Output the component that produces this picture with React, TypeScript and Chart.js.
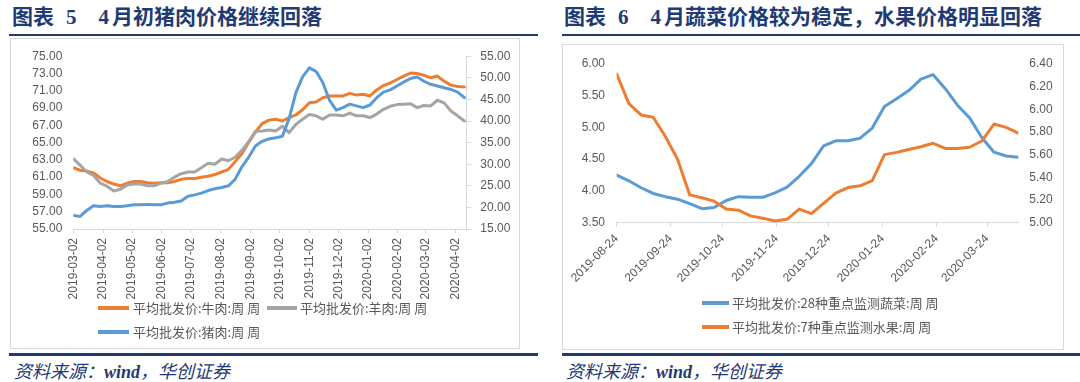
import React, { useEffect, useRef } from 'react';
import { Chart, registerables } from 'chart.js';

Chart.register(...registerables);

const NAVY = '#1f3b73';
const TICK_COLOR = '#595959';
const AXIS_COLOR = '#d9d9d9';
const ORANGE = '#ed7d31';
const GRAY = '#a5a5a5';
const BLUE = '#5b9bd5';

// ---------- 图表5 data ----------
const meatWeekStart = '2019-03-02';
const meatAxisEnd = '2020-04-13';
const meatTickLabels = ['2019-03-02', '2019-04-02', '2019-05-02', '2019-06-02', '2019-07-02', '2019-08-02', '2019-09-02', '2019-10-02', '2019-11-02', '2019-12-02', '2020-01-02', '2020-02-02', '2020-03-02', '2020-04-02'];
const beefSeries = [62.1, 61.8, 61.7, 61.5, 60.9, 60.5, 60.2, 60.0, 60.3, 60.5, 60.5, 60.35, 60.3, 60.35, 60.35, 60.5, 60.75, 60.85, 60.85, 61.0, 61.1, 61.3, 61.6, 61.9, 62.8, 63.7, 65.0, 66.2, 67.2, 67.6, 67.7, 67.5, 67.9, 68.2, 68.8, 69.6, 69.7, 70.2, 70.4, 70.4, 70.4, 70.7, 70.5, 70.6, 70.4, 71.1, 71.6, 71.9, 72.3, 72.7, 73.05, 73.0, 72.8, 72.5, 72.7, 72.1, 71.65, 71.5, 71.45];
const muttonSeries = [63.15, 62.4, 61.6, 61.2, 60.3, 59.95, 59.4, 59.6, 60.1, 60.2, 60.2, 60.0, 60.0, 60.3, 60.5, 61.0, 61.4, 61.6, 61.6, 62.1, 62.6, 62.5, 63.1, 62.9, 63.3, 64.1, 65.1, 66.3, 66.35, 66.45, 66.35, 66.9, 66.15, 67.1, 67.7, 68.25, 68.1, 67.7, 68.2, 68.2, 68.1, 68.4, 68.1, 68.1, 67.9, 68.3, 68.85, 69.2, 69.4, 69.45, 69.5, 69.05, 69.3, 69.25, 69.9, 69.6, 68.65, 68.1, 67.5];
const porkSeries = [18.15, 17.9, 19.3, 20.4, 20.2, 20.4, 20.2, 20.2, 20.4, 20.6, 20.6, 20.7, 20.6, 20.6, 21.0, 21.2, 21.5, 22.6, 22.9, 23.3, 23.9, 24.3, 24.6, 25.0, 26.5, 29.4, 31.6, 34.2, 35.3, 35.85, 36.1, 36.45, 40.5, 46.5, 50.2, 52.3, 51.5, 48.9, 44.8, 42.5, 43.1, 43.9, 43.5, 43.1, 43.7, 45.4, 46.7, 47.2, 48.1, 49.0, 49.85, 50.2, 49.2, 48.5, 48.1, 47.7, 47.3, 46.7, 45.4];
const meatLegend = ['平均批发价:牛肉:周 周', '平均批发价:羊肉:周 周', '平均批发价:猪肉:周 周'];

// ---------- 图表6 data ----------
const produceWeekStart = '2019-08-24';
const produceAxisEnd = '2020-04-11';
const produceTickLabels = ['2019-08-24', '2019-09-24', '2019-10-24', '2019-11-24', '2019-12-24', '2020-01-24', '2020-02-24', '2020-03-24'];
const vegetableSeries = [4.25, 4.16, 4.05, 3.96, 3.91, 3.87, 3.80, 3.72, 3.74, 3.85, 3.91, 3.90, 3.90, 3.97, 4.06, 4.23, 4.43, 4.71, 4.79, 4.79, 4.83, 4.99, 5.33, 5.45, 5.58, 5.76, 5.83, 5.61, 5.35, 5.15, 4.84, 4.61, 4.55, 4.53];
const fruitSeries = [6.31, 6.05, 5.95, 5.93, 5.76, 5.56, 5.245, 5.22, 5.19, 5.12, 5.11, 5.06, 5.04, 5.015, 5.03, 5.12, 5.08, 5.17, 5.26, 5.31, 5.325, 5.37, 5.60, 5.62, 5.645, 5.67, 5.70, 5.655, 5.655, 5.665, 5.72, 5.87, 5.84, 5.79];
const produceLegend = ['平均批发价:28种重点监测蔬菜:周 周', '平均批发价:7种重点监测水果:周 周'];

const DAY = 86400000;
const daysBetween = (a: string, b: string) => Math.round((Date.parse(b) - Date.parse(a)) / DAY);
const weekly = (values: number[]) => values.map((y, i) => ({ x: i * 7, y }));

const tickFont = { family: "'Liberation Sans', Arial, sans-serif", size: 12 };

function meatConfig(): any {
  const tickDays = meatTickLabels.map((l) => daysBetween(meatWeekStart, l));
  return {
    type: 'line',
    data: {
      datasets: [
        { label: meatLegend[0], data: weekly(beefSeries), borderColor: ORANGE, yAxisID: 'y', order: 2 },
        { label: meatLegend[1], data: weekly(muttonSeries), borderColor: GRAY, yAxisID: 'y', order: 1 },
        { label: meatLegend[2], data: weekly(porkSeries), borderColor: BLUE, yAxisID: 'y2', order: 0 },
      ],
    },
    options: {
      animation: false,
      responsive: false,
      maintainAspectRatio: false,
      layout: { padding: { top: 17, left: 0, right: 0, bottom: 0 } },
      plugins: { legend: { display: false }, tooltip: { enabled: false } },
      elements: { point: { radius: 0 }, line: { borderWidth: 3, tension: 0, borderJoinStyle: 'round', borderCapStyle: 'round' } },
      scales: {
        x: {
          type: 'linear',
          min: 0,
          max: daysBetween(meatWeekStart, meatAxisEnd),
          afterBuildTicks: (s: any) => { s.ticks = tickDays.map((value) => ({ value })); },
          afterFit: (s: any) => { s.height = 71; },
          ticks: { autoSkip: false, minRotation: 90, maxRotation: 90, padding: 5, color: TICK_COLOR, font: tickFont, callback: (_v: any, i: number) => meatTickLabels[i] },
          grid: { drawOnChartArea: false, drawTicks: true, tickLength: 4, color: AXIS_COLOR },
          border: { display: true, color: AXIS_COLOR, width: 1 },
        },
        y: {
          position: 'left',
          min: 55,
          max: 75,
          afterFit: (s: any) => { s.width = 63.3; },
          ticks: { autoSkip: false, stepSize: 2, padding: 11, color: TICK_COLOR, font: tickFont, callback: (v: any) => Number(v).toFixed(2) },
          grid: { display: false, drawTicks: false },
          border: { display: false },
        },
        y2: {
          position: 'right',
          min: 15,
          max: 55,
          afterFit: (s: any) => { s.width = 53.7; },
          ticks: { autoSkip: false, stepSize: 5, padding: 9, color: TICK_COLOR, font: tickFont, callback: (v: any) => Number(v).toFixed(2) },
          grid: { drawOnChartArea: false, drawTicks: true, tickLength: 5, color: AXIS_COLOR },
          border: { display: true, color: AXIS_COLOR, width: 1 },
        },
      },
    },
  };
}

function produceConfig(): any {
  const tickDays = produceTickLabels.map((l) => daysBetween(produceWeekStart, l));
  return {
    type: 'line',
    data: {
      datasets: [
        { label: produceLegend[0], data: weekly(vegetableSeries), borderColor: BLUE, yAxisID: 'y', order: 1 },
        { label: produceLegend[1], data: weekly(fruitSeries), borderColor: ORANGE, yAxisID: 'y2', order: 0 },
      ],
    },
    options: {
      animation: false,
      responsive: false,
      maintainAspectRatio: false,
      layout: { padding: { top: 14.3, left: 0, right: 0, bottom: 0 } },
      plugins: { legend: { display: false }, tooltip: { enabled: false } },
      elements: { point: { radius: 0 }, line: { borderWidth: 3, tension: 0, borderJoinStyle: 'round', borderCapStyle: 'round' } },
      scales: {
        x: {
          type: 'linear',
          min: 0,
          max: daysBetween(produceWeekStart, produceAxisEnd),
          afterBuildTicks: (s: any) => { s.ticks = tickDays.map((value) => ({ value })); },
          afterFit: (s: any) => { s.height = 72.3; },
          ticks: { autoSkip: false, minRotation: 45, maxRotation: 45, padding: 5, color: TICK_COLOR, font: tickFont, callback: (_v: any, i: number) => produceTickLabels[i] },
          grid: { drawOnChartArea: false, drawTicks: true, tickLength: 4, color: AXIS_COLOR },
          border: { display: true, color: AXIS_COLOR, width: 1 },
        },
        y: {
          position: 'left',
          min: 3.5,
          max: 6,
          afterFit: (s: any) => { s.width = 53.7; },
          ticks: { autoSkip: false, stepSize: 0.5, padding: 11.7, color: TICK_COLOR, font: tickFont, callback: (v: any) => Number(v).toFixed(2) },
          grid: { display: false, drawTicks: false },
          border: { display: false },
        },
        y2: {
          position: 'right',
          min: 5,
          max: 6.4,
          afterFit: (s: any) => { s.width = 44.7; },
          ticks: { autoSkip: false, stepSize: 0.2, padding: 11, color: TICK_COLOR, font: tickFont, callback: (v: any) => Number(v).toFixed(2) },
          grid: { display: false, drawTicks: false },
          border: { display: false },
        },
      },
    },
  };
}

function ChartCanvas({ left, top, width, height, makeConfig }: { left: number; top: number; width: number; height: number; makeConfig: () => any }) {
  const ref = useRef<HTMLCanvasElement>(null);
  useEffect(() => {
    const chart = new Chart(ref.current as HTMLCanvasElement, makeConfig());
    return () => chart.destroy();
  }, []);
  return <canvas ref={ref} width={width} height={height} style={{ position: 'absolute', left, top, width, height }} />;
}

const abs = (left: number, top: number, extra: any = {}) => ({ position: 'absolute' as const, left, top, ...extra });

function LegendItem({ x, y, sampleW, textX, color, text }: { x: number; y: number; sampleW: number; textX: number; color: string; text: string }) {
  return (
    <>
      <div style={abs(x, y - 1.75, { width: sampleW, height: 3.5, background: color })} />
      <div style={abs(textX, y, { transform: 'translateY(-50%)', font: "13px 'Noto Sans CJK SC', sans-serif", color: TICK_COLOR, whiteSpace: 'nowrap', lineHeight: '16px' })}>{text}</div>
    </>
  );
}

const titleStyle = (left: number) => abs(left, 17, {
  transform: 'translateY(-50%)',
  font: "bold 21px 'Liberation Serif', 'Noto Sans CJK SC', serif",
  color: NAVY,
  whiteSpace: 'nowrap',
  lineHeight: '24px',
});

const sourceStyle = (left: number) => abs(left, 372, {
  transform: 'translateY(-50%)',
  font: "italic 18px 'Liberation Serif', 'Noto Sans CJK SC', serif",
  color: NAVY,
  whiteSpace: 'nowrap',
  lineHeight: '22px',
});

export default function App() {
  return (
    <div style={{ position: 'absolute', left: 0, top: 0, width: 1080, height: 382, background: '#fff', overflow: 'hidden' }}>
      {/* ---- left panel ---- */}
      <div style={titleStyle(12)}>
        <span>图表</span><span style={{ marginLeft: 12 }}>5</span><span style={{ marginLeft: 22 }}>4</span><span style={{ marginLeft: 3 }}>月初猪肉价格继续回落</span>
      </div>
      <div style={abs(9, 33.5, { width: 529, height: 2.5, background: NAVY })} />
      <div style={abs(10, 38, { width: 510, height: 311, border: `1.5px solid ${AXIS_COLOR}`, boxSizing: 'border-box' })} />
      <ChartCanvas left={10} top={38} width={510} height={262} makeConfig={meatConfig} />
      <LegendItem x={98} y={308} sampleW={31} textX={133} color={ORANGE} text={meatLegend[0]} />
      <LegendItem x={267} y={308} sampleW={30} textX={300} color={GRAY} text={meatLegend[1]} />
      <LegendItem x={98} y={332} sampleW={31} textX={133} color={BLUE} text={meatLegend[2]} />
      <div style={abs(9, 353, { width: 529, height: 2.5, background: NAVY })} />
      <div style={sourceStyle(14)}>资料来源：<b>wind</b>，华创证券</div>

      {/* ---- right panel ---- */}
      <div style={titleStyle(564)}>
        <span>图表</span><span style={{ marginLeft: 12 }}>6</span><span style={{ marginLeft: 22 }}>4</span><span style={{ marginLeft: 3 }}>月蔬菜价格较为稳定，水果价格明显回落</span>
      </div>
      <div style={abs(561.5, 33.5, { width: 520, height: 2.5, background: NAVY })} />
      <div style={abs(562, 44, { width: 502, height: 306, border: `1.5px solid ${AXIS_COLOR}`, boxSizing: 'border-box' })} />
      <ChartCanvas left={563} top={45} width={500} height={250} makeConfig={produceConfig} />
      <LegendItem x={702} y={303} sampleW={27} textX={732} color={BLUE} text={produceLegend[0]} />
      <LegendItem x={702} y={327} sampleW={27} textX={732} color={ORANGE} text={produceLegend[1]} />
      <div style={abs(561.5, 353, { width: 520, height: 2.5, background: NAVY })} />
      <div style={sourceStyle(566)}>资料来源：<b>wind</b>，华创证券</div>
    </div>
  );
}
